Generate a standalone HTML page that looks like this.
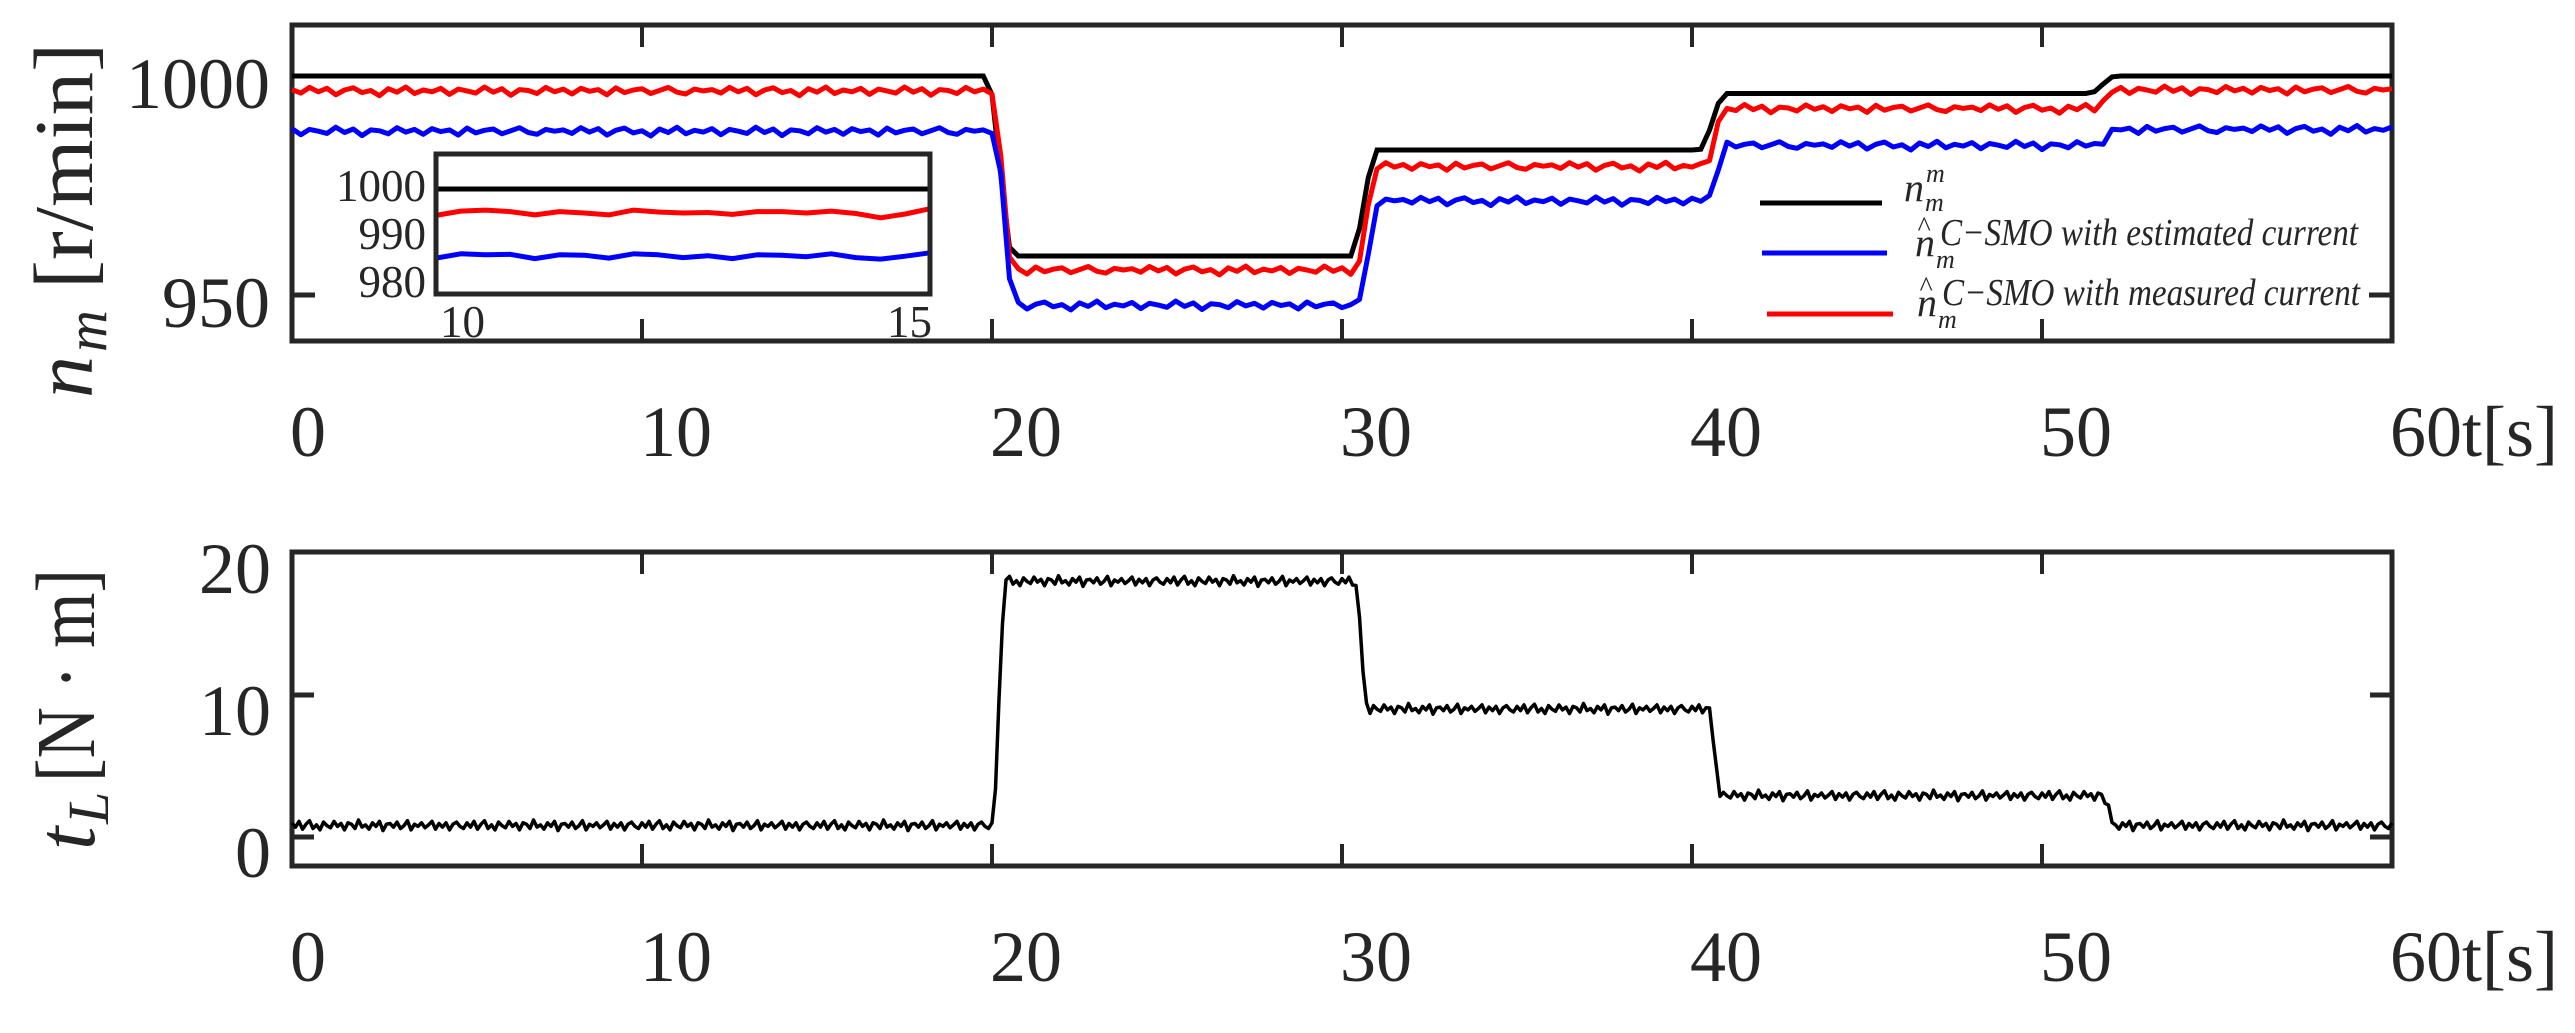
<!DOCTYPE html>
<html><head><meta charset="utf-8">
<style>
html,body{margin:0;padding:0;background:#fff;}
svg{display:block;}
text{font-family:"Liberation Serif",serif;fill:#262626;}
.it{font-style:italic;}
</style></head>
<body>
<svg id="chart" width="2575" height="1033" viewBox="0 0 2575 1033" xmlns="http://www.w3.org/2000/svg">
<rect width="2575" height="1033" fill="#fff"/>
<g id="topPlot"></g>
<g id="insetPlot"></g>
<g id="bottomPlot"></g>
<g id="legendG"></g>
<g id="titles">
  <g transform="translate(92,398) rotate(-90)">
    <text x="0" y="0" font-size="84" class="it">n</text>
    <text x="46" y="14" font-size="58" class="it">m</text>
    <text x="109" y="0" font-size="84" textLength="246" lengthAdjust="spacingAndGlyphs">[r/min]</text>
  </g>
  <g transform="translate(94,850) rotate(-90)">
    <text x="0" y="0" font-size="84" class="it">t</text>
    <text x="26" y="14" font-size="58" class="it">L</text>
    <text x="68" y="0" font-size="84" textLength="213" lengthAdjust="spacingAndGlyphs">[N · m]</text>
  </g>
</g>
</svg>
<script>
// ---- data ----
const speedStepTimes = [20.0, 30.4, 40.35, 51.5];
const refLevels = [1000, 958.9, 983.1, 996.0, 1000];
const redLevels = [996.6, 955.7, 979.4, 992.6, 996.8];
const blueLevels = [987.4, 947.7, 971.5, 984.2, 987.8];
const torqueStepTimes = [20.0, 30.35, 40.45, 51.7];
const torqueLevels = [0.8, 18.0, 9.0, 2.9, 0.8];
const speedRipple = [0.3,-0.5,0.8,-0.2,0.6,-0.9,0.2,0.7,-0.4,0.1,-1.1,0.5,-0.3,0.9,-0.6,0.2,-0.2,0.6,-0.8,0.4,0.0,-0.5,0.9,-0.3,0.5,-1.0,0.3,0.1,-0.6,0.8,-0.2,0.4,-0.7,0.6,-0.1,0.3,-0.9,0.7,-0.4,0.2,0.5,-0.6,0.1,0.8,-0.3,-0.7,0.4,0.0];
const torqueRipple = [0.2,-0.1,0.3,-0.25,0.1,0.35,-0.2,0.05,-0.3,0.25,0.0,-0.15,0.3,-0.05,0.15,-0.3,0.2,0.1,-0.2,0.4,-0.1,0.05,-0.25,0.2,-0.05,0.3,-0.35,0.1,0.15,-0.1,0.25,-0.2,0.0,0.35,-0.3,0.1,-0.05,0.2,-0.15,0.05,0.3,-0.25,0.15,-0.1,0.2,-0.3,0.1,0.25,-0.05,-0.2];
const insetRef = [1000,1000,1000,1000,1000,1000,1000,1000,1000,1000,1000,1000,1000,1000,1000,1000,1000,1000,1000,1000,1000];
const insetRed = [994.5,995.4,995.6,995.3,994.6,995.3,995.0,994.6,995.6,995.2,995.0,995.1,994.7,995.3,995.3,995.0,995.4,994.9,994.0,994.8,995.9];
const insetBlue = [985.6,986.5,986.3,986.4,985.5,986.3,986.2,985.6,986.5,986.3,985.7,986.1,985.5,986.3,986.2,985.9,986.5,985.7,985.4,986.0,986.7];
const topXTicks = [0,10,20,30,40,50,60];
const topYTicks = [950,1000];
const botYTicks = [0,10,20];
const insetYTicks = [980,990,1000];
const insetXTicks = [10,15];

// ---- scales ----
const xT = t => 292 + t*35.0;
const yT = v => 76 + (1000 - v)*4.38;
const yB = v => 837 - v*14.2;
const xI = t => 436 + (t-10)*98.8;
const yI = v => 189 + (1000 - v)*4.8;
const NS = "http://www.w3.org/2000/svg";
function mk(tag, parent, attrs){const e=document.createElementNS(NS,tag);for(const k in attrs)e.setAttribute(k,attrs[k]);parent.appendChild(e);return e;}

function stepValue(t, times, levels, ramp, lag){
  let v = levels[0];
  for(let i=0;i<times.length;i++){
    const s = times[i]+lag;
    if(t >= s+ramp) v = levels[i+1];
    else if(t > s){ const f=(t-s)/ramp; const g=f*f*(3-2*f); v = levels[i]+(levels[i+1]-levels[i])*g; }
  }
  return v;
}

const gTop = document.getElementById('topPlot');
const gBot = document.getElementById('bottomPlot');
const gIns = document.getElementById('insetPlot');
const gLeg = document.getElementById('legendG');
const AX = '#262626';

function axesBox(g, x0, y0, x1, y1){
  const r = mk('rect', g, {x:x0,y:y0,width:x1-x0,height:y1-y0,fill:'none',stroke:AX,'stroke-width':5});
  
  
}
axesBox(gTop, 292, 25, 2392, 341);
topXTicks.forEach(t=>{
  if(t>0 && t<60){
    const a = mk('line', gTop, {x1:xT(t),x2:xT(t),y1:25,y2:47,stroke:AX,'stroke-width':4});
    
    
    const b = mk('line', gTop, {x1:xT(t),x2:xT(t),y1:319,y2:341,stroke:AX,'stroke-width':4});
    
    
  }
  const lb = mk('text', gTop, {x:xT(t)-2,y:456,'font-size':72});
  lb.textContent = t===60 ? '60t[s]' : String(t);
  
  
});
topYTicks.forEach(v=>{
  const a = mk('line', gTop, {x1:292,x2:315,y1:yT(v),y2:yT(v),stroke:AX,'stroke-width':5});
  
  
  const b = mk('line', gTop, {x1:2369,x2:2392,y1:yT(v),y2:yT(v),stroke:AX,'stroke-width':5});
  
  
  const lb = mk('text', gTop, {x:270,y:yT(v)+32,'font-size':72,'text-anchor':'end'});
  lb.textContent = String(v);
  
  
});

function speedPath(levels, rippleScale, offset, lag, ramp){
  let d='';
  for(let k=0;k<=240;k++){
    const t=k*0.25;
    let v = stepValue(t, speedStepTimes, levels, ramp, lag);
    if(rippleScale) v += rippleScale*speedRipple[(k+offset)%speedRipple.length];
    d += (k?'L':'M')+xT(t).toFixed(1)+','+yT(v).toFixed(1);
  }
  return d;
}
const pRef = mk('path', gTop, {d:speedPath(refLevels,0,0,-0.15,0.75),fill:'none',stroke:'#000','stroke-width':5});


const pRed = mk('path', gTop, {d:speedPath(redLevels,1,0,0.0,0.6),fill:'none',stroke:'#ff0000','stroke-width':5,'stroke-linejoin':'round'});


const pBlue = mk('path', gTop, {d:speedPath(blueLevels,1,17,0.05,0.6),fill:'none',stroke:'#0000ff','stroke-width':5,'stroke-linejoin':'round'});



// ---- inset ----
const ibg = mk('rect', gIns, {x:436,y:154,width:494,height:140,fill:'#fff'});


function insetPath(arr){
  let d='';
  arr.forEach((v,i)=>{const t=10+i*5/(arr.length-1); d+=(i?'L':'M')+xI(t).toFixed(1)+','+yI(v).toFixed(1);});
  return d;
}
const iR = mk('path', gIns, {d:insetPath(insetRef),fill:'none',stroke:'#000','stroke-width':5});


const iRed = mk('path', gIns, {d:insetPath(insetRed),fill:'none',stroke:'#ff0000','stroke-width':5,'stroke-linejoin':'round'});


const iBlue = mk('path', gIns, {d:insetPath(insetBlue),fill:'none',stroke:'#0000ff','stroke-width':5,'stroke-linejoin':'round'});


axesBox(gIns, 436, 154, 930, 294);
insetYTicks.forEach(v=>{
  const lb = mk('text', gIns, {x:426,y:yI(v)+12,'font-size':45,'text-anchor':'end'});
  lb.textContent = String(v);
  
  
});
insetXTicks.forEach(t=>{
  const lb = mk('text', gIns, {x: t===10 ? xI(t)+4 : xI(t)+2, y:337,'font-size':45,'text-anchor': t===10?'start':'end'});
  lb.textContent = String(t);
  
  
});

// ---- legend ----
const legItems = [
  {color:'#000', x1:1760, x2:1882, y:203, name:'legend-reference'},
  {color:'#0000ff', x1:1762, x2:1887, y:253, name:'legend-estimated'},
  {color:'#ff0000', x1:1767, x2:1893, y:314, name:'legend-measured'}
];
legItems.forEach(it=>{
  const l = mk('line', gLeg, {x1:it.x1,x2:it.x2,y1:it.y,y2:it.y,stroke:it.color,'stroke-width':5});
  
  
});
function legText(x,y,str,size,len,name){
  const t = mk('text', gLeg, {x:x,y:y,'font-size':size,'class':'it'});
  if(len){t.setAttribute('textLength',len);t.setAttribute('lengthAdjust','spacingAndGlyphs');}
  t.textContent = str;
  
  
}
legText(1904,201,'n',40,0,'legend-label-n');
legText(1926,182,'m',26,0,'legend-label-sup');
legText(1925,211,'m',26,0,'legend-label-sub');
legText(1915,256,'n',40,0,'legend-label-n');
legText(1917,236,'^',28,0,'legend-label-hat');
legText(1940,245,'C−SMO with estimated  current',38,418,'legend-label-estimated');
legText(1936,268,'m',26,0,'legend-label-sub');
legText(1917,316,'n',40,0,'legend-label-n');
legText(1919,296,'^',28,0,'legend-label-hat');
legText(1942,305,'C−SMO with measured  current',38,418,'legend-label-measured');
legText(1938,328,'m',26,0,'legend-label-sub');

// ---- bottom axes ----
axesBox(gBot, 292, 552, 2392, 866);
topXTicks.forEach(t=>{
  if(t>0 && t<60){
    const a = mk('line', gBot, {x1:xT(t),x2:xT(t),y1:552,y2:574,stroke:AX,'stroke-width':4});
    
    
    const b = mk('line', gBot, {x1:xT(t),x2:xT(t),y1:844,y2:866,stroke:AX,'stroke-width':4});
    
    
  }
  const lb = mk('text', gBot, {x:xT(t)-2,y:981,'font-size':72});
  lb.textContent = t===60 ? '60t[s]' : String(t);
  
  
});
botYTicks.forEach(v=>{
  if(v<20){
    const a = mk('line', gBot, {x1:292,x2:314,y1:yB(v),y2:yB(v),stroke:AX,'stroke-width':5});
    
    
    const b = mk('line', gBot, {x1:2370,x2:2392,y1:yB(v),y2:yB(v),stroke:AX,'stroke-width':5});
    
    
  }
  const lb = mk('text', gBot, {x:271,y:yB(v)+40,'font-size':72,'text-anchor':'end'});
  lb.textContent = String(v);
  
  
});
let dT='';
for(let k=0;k<=600;k++){
  const t=k*0.1;
  const v = stepValue(t, torqueStepTimes, torqueLevels, 0.4, 0) + torqueRipple[k%torqueRipple.length];
  dT += (k?'L':'M')+xT(t).toFixed(1)+','+yB(v).toFixed(1);
}
const pT = mk('path', gBot, {d:dT,fill:'none',stroke:'#000','stroke-width':3.5,'stroke-linejoin':'round'});


</script>
</body></html>
